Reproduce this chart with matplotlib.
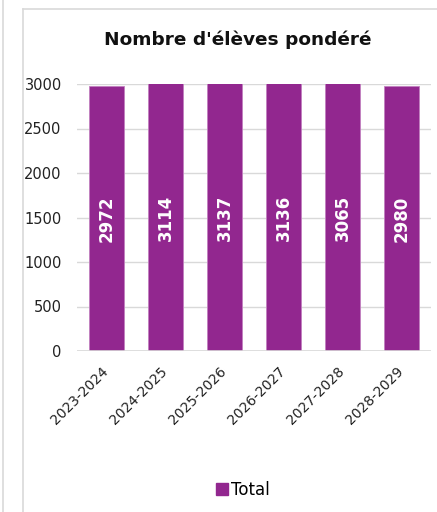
import matplotlib.pyplot as plt
from matplotlib.lines import Line2D

years = ['2023-2024', '2024-2025', '2025-2026', '2026-2027', '2027-2028', '2028-2029']
total = [2972, 3114, 3137, 3136, 3065, 2980]
yticks = [0, 500, 1000, 1500, 2000, 2500, 3000]

purple = '#92278F'
W, H = 437, 512

plt.rcParams['font.family'] = ['DejaVu Sans']
fig = plt.figure(figsize=(W / 100, H / 100), dpi=100)

# frame lines from the surrounding dashboard
fig.add_artist(Line2D([3 / W, 3 / W], [0, 1], color='#d9d9d9', lw=1.2))
fig.add_artist(Line2D([23 / W, 23 / W], [0, 1 - 9 / H], color='#d9d9d9', lw=1.2))
fig.add_artist(Line2D([23 / W, 1], [1 - 9 / H, 1 - 9 / H], color='#d9d9d9', lw=1.2))

ax = fig.add_axes([77 / W, 1 - 351 / H, (431 - 77) / W, (351 - 84) / H])
x = range(len(years))
ax.bar(x, total, width=0.58, color=purple, edgecolor='#c27fc0', linewidth=0.6, zorder=3)
ax.set_ylim(0, 3000)
ax.set_xlim(-0.5, len(years) - 0.5)
ax.set_yticks(yticks)
ax.set_yticklabels([str(t) for t in yticks], fontsize=10.5, color='#222222')
ax.set_xticks(list(x))
ax.set_xticklabels(years, rotation=45, ha='right', va='center', rotation_mode='anchor',
                   fontsize=10, color='#222222')
ax.tick_params(axis='y', length=0, pad=11)
ax.tick_params(axis='x', length=0, pad=13)
ax.grid(axis='y', color='#d9d9d9', lw=1, zorder=0)
for s in ax.spines.values():
    s.set_visible(False)
ax.axhline(0, color='#d9d9d9', lw=1.2, zorder=4)

for i, v in enumerate(total):
    ax.text(i, min(v, 3000) / 2, str(v), rotation=90, ha='center', va='center',
            color='white', fontsize=12, fontweight='bold', zorder=5)

fig.text(237.5 / W, 1 - 40 / H, "Nombre d'élèves pondéré", ha='center', va='center',
         fontsize=13.3, fontweight='bold', color='#111111')

handle = plt.Rectangle((0, 0), 1, 1, color=purple)
fig.legend([handle], ['Total'], loc='center', bbox_to_anchor=(243 / W, 1 - 490 / H),
           frameon=False, fontsize=12, handlelength=0.7, handleheight=0.7, handletextpad=0.2)

fig.savefig('out.png', dpi=100)
